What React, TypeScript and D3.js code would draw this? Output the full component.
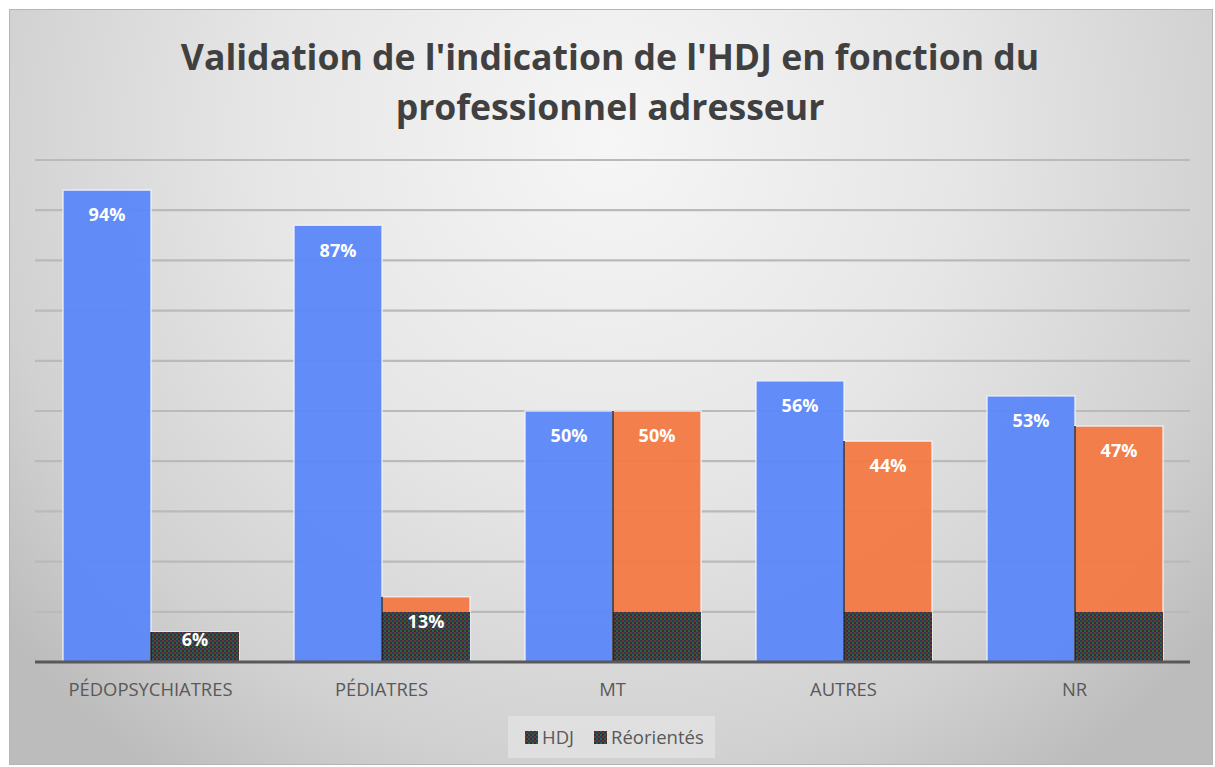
import React from 'react'
import * as d3 from 'd3'

const categories = ['PÉDOPSYCHIATRES', 'PÉDIATRES', 'MT', 'AUTRES', 'NR']
const seriesNames = ['HDJ', 'Réorientés']
const hdjValues = [0.94, 0.87, 0.5, 0.56, 0.53]
const reorientValues = [0.06, 0.13, 0.5, 0.44, 0.47]
const titleLines = ["Validation de l'indication de l'HDJ en fonction du", 'professionnel adresseur']

const W = 1215
const H = 767
const plot = { left: 35, right: 1190, top: 160, bottom: 662 }
const colors = ['#5B87F8', '#F37A43']
const font = '"Open Sans", "Noto Sans", sans-serif'

export default function App() {
  const x = d3.scaleBand<string>().domain(categories).range([plot.left, plot.right]).padding(0)
  const xInner = d3
    .scaleBand<string>()
    .domain(seriesNames)
    .range([0, x.step()])
    .paddingInner(0)
    .paddingOuter(0.3125)
  const y = d3.scaleLinear().domain([0, 1]).range([plot.bottom, plot.top])
  const gridTicks = y.ticks(10).filter((t) => t > 0)
  const pct = d3.format('.0%')

  const rows = categories.map((c, i) => ({ cat: c, values: [hdjValues[i], reorientValues[i]] }))

  return (
    <svg width={W} height={H} style={{ position: 'absolute', left: 0, top: 0 }}>
      <defs>
        <radialGradient id="bg" gradientUnits="userSpaceOnUse" cx={610} cy={140} r={780}>
          <stop offset="0" stopColor="#f6f6f6" />
          <stop offset="0.45" stopColor="#e6e6e6" />
          <stop offset="0.8" stopColor="#d1d1d1" />
          <stop offset="1" stopColor="#bcbcbc" />
        </radialGradient>
        {/* dark multicoloured dither seen at the foot of the orange bars */}
        <pattern id="dither" x="0" y="0" width="4" height="4" patternUnits="userSpaceOnUse">
          <rect x="0" y="0" width="2" height="2" fill="#2c3470" />
          <rect x="2" y="0" width="2" height="2" fill="#6e3a28" />
          <rect x="0" y="2" width="2" height="2" fill="#2e6238" />
          <rect x="2" y="2" width="2" height="2" fill="#303030" />
        </pattern>
      </defs>

      <rect x={9.5} y={9.5} width={1203} height={755} fill="url(#bg)" stroke="#b5b5b5" />

      {titleLines.map((t, i) => (
        <text
          key={i}
          x={610}
          y={70 + i * 50}
          textAnchor="middle"
          fontFamily={font}
          fontWeight={700}
          fontSize={35.6}
          fill="#404040"
        >
          {t}
        </text>
      ))}

      {gridTicks.map((t) => (
        <line
          key={t}
          x1={plot.left}
          x2={plot.right}
          y1={y(t)}
          y2={y(t)}
          stroke="#bababa"
          strokeWidth={2.2}
        />
      ))}

      {rows.map((r) =>
        r.values.map((v, si) => {
          const bx = Math.round(x(r.cat)! + xInner(seriesNames[si])!)
          const bw = Math.round(xInner.bandwidth())
          const top = y(v)
          const ditherTop = Math.round(y(Math.min(v, 0.1)))
          const labelY = Math.min(top + 25, plot.bottom - 22)
          return (
            <g key={r.cat + si}>
              <rect
                x={bx}
                y={top}
                width={bw}
                height={plot.bottom - top}
                fill={colors[si]}
                fillOpacity={0.95}
                stroke="#f2f4fb"
                strokeOpacity={0.8}
                strokeWidth={1.5}
              />
              {si === 1 && (
                <>
                  <rect x={bx} y={ditherTop} width={bw} height={plot.bottom - ditherTop} fill="url(#dither)" />
                  <line x1={bx} x2={bx} y1={top} y2={plot.bottom} stroke="#222" strokeWidth={1.5} />
                </>
              )}
              <text
                x={bx + bw / 2}
                y={labelY}
                dy="0.35em"
                textAnchor="middle"
                fontFamily={font}
                fontWeight={700}
                fontSize={18}
                fill="#ffffff"
              >
                {pct(v)}
              </text>
            </g>
          )
        })
      )}

      {categories.map((c) => (
        <text
          key={c}
          x={x(c)! + x.bandwidth() / 2}
          y={690}
          dy="0.35em"
          textAnchor="middle"
          fontFamily={font}
          fontSize={18.4}
          fill="#595959"
        >
          {c}
        </text>
      ))}

      <line x1={plot.left} x2={plot.right} y1={plot.bottom} y2={plot.bottom} stroke="#595959" strokeWidth={3} />

      <rect x={508} y={716} width={207} height={42} fill="#e2e2e2" fillOpacity={0.8} />
      {seriesNames.map((s, i) => {
        const lx = [525, 594][i]
        return (
          <g key={s}>
            <rect x={lx} y={731} width={13} height={13} fill="url(#dither)" />
            <text x={lx + 17} y={737.5} dy="0.35em" fontFamily={font} fontSize={18.5} fill="#595959">
              {s}
            </text>
          </g>
        )
      })}
    </svg>
  )
}
